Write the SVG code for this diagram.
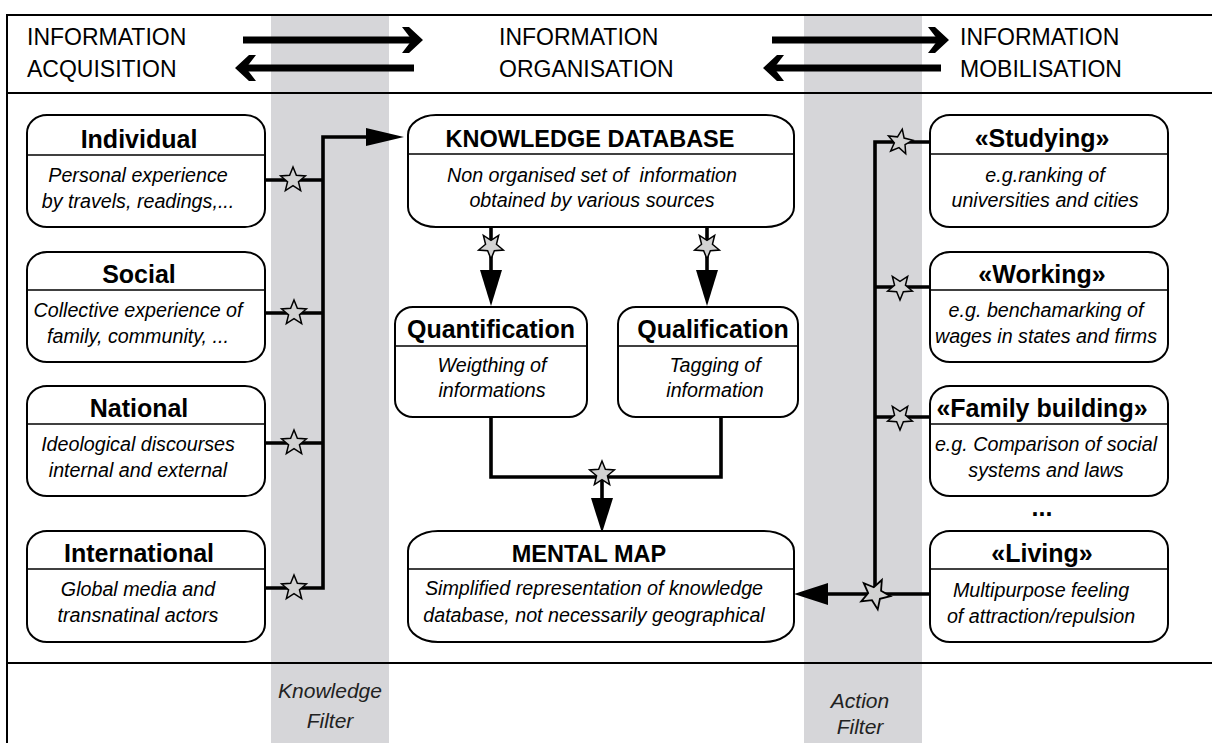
<svg xmlns="http://www.w3.org/2000/svg" xmlns:xlink="http://www.w3.org/1999/xlink" width="1212" height="743" viewBox="0 0 1212 743">
<defs>
<style>
text{font-family:"Liberation Sans",Arial,sans-serif;fill:#000}
.hdr{font-size:23px}
.ttl{font-size:25px;font-weight:bold;text-anchor:middle}
.cap{font-size:23.5px;font-weight:bold;text-anchor:middle}
.it{font-size:19.7px;font-style:italic;text-anchor:middle}
.flt{font-size:21px;font-style:italic;text-anchor:middle;fill:#222}
.box{fill:#fff;stroke:#000;stroke-width:2}
.div{stroke:#000;stroke-width:1.6}
.band{fill:#d6d6d9}
.frame{stroke:#000;stroke-width:2;fill:none}
.conn{fill:none;stroke:#000;stroke-width:3.6;stroke-linejoin:miter;stroke-linecap:butt}
.thick{fill:none;stroke:#000;stroke-width:7;stroke-linecap:butt}
.head{fill:#000}
.star{fill:#d2d2d2;stroke:#000;stroke-width:1.5;stroke-linejoin:miter}
</style>
<path id="star" d="M0,-13 L3.36,-4.63 L12.36,-4.02 L5.44,1.77 L7.64,10.52 L0,5.72 L-7.64,10.52 L-5.44,1.77 L-12.36,-4.02 L-3.36,-4.63 Z"/>
</defs>
<rect width="1212" height="743" fill="#fff"/>
<g id="bands">
<rect class="band" x="271" y="15" width="118" height="728"/>
<rect class="band" x="804" y="15" width="118" height="728"/>
</g>
<g id="frame">
<path class="frame" d="M1214,15 H7 V745"/>
<line class="frame" x1="7" y1="93" x2="1214" y2="93"/>
<line class="frame" x1="7" y1="663" x2="1214" y2="663"/>
</g>
<g id="header">
<text class="hdr" x="27" y="45">INFORMATION</text>
<text class="hdr" x="27" y="77">ACQUISITION</text>
<text class="hdr" x="499" y="45">INFORMATION</text>
<text class="hdr" x="499" y="77">ORGANISATION</text>
<text class="hdr" x="960" y="45">INFORMATION</text>
<text class="hdr" x="960" y="77">MOBILISATION</text>
</g>
<g id="connectors">
<path class="thick" d="M243,40 H412"/>
<polygon class="head" points="423,40 409,27 402,27 412,40 402,53 409,53"/>
<path class="thick" d="M414,68 H246"/>
<polygon class="head" points="235,68 249,55 256,55 246,68 256,81 249,81"/>
<path class="thick" d="M772,40 H938"/>
<polygon class="head" points="949,40 935,27 928,27 938,40 928,53 935,53"/>
<path class="thick" d="M941,68 H774"/>
<polygon class="head" points="763,68 777,55 784,55 774,68 784,81 777,81"/>

<path class="conn" d="M265,180 H323 M265,313 H323 M265,443 H323 M265,588 H323 V137 H370"/>
<polygon class="head" points="366,128 366,146 404,137"/>

<path class="conn" d="M491,227 V272"/>
<polygon class="head" points="480,270 502,270 491,306"/>
<path class="conn" d="M707,227 V272"/>
<polygon class="head" points="696,270 718,270 707,306"/>

<path class="conn" d="M491,417 V477 H721 V417 M602,477 V500"/>
<polygon class="head" points="591,498 613,498 602,533"/>

<path class="conn" d="M930,142 H875 V594 M930,287 H875 M930,417 H875 M930,594 H826"/>
<polygon class="head" points="828,583 828,605 794,594"/>

<use xlink:href="#star" href="#star" class="star" transform="translate(293,180)"/>
<use xlink:href="#star" href="#star" class="star" transform="translate(294,313)"/>
<use xlink:href="#star" href="#star" class="star" transform="translate(294,443)"/>
<use xlink:href="#star" href="#star" class="star" transform="translate(294,588)"/>
<use xlink:href="#star" href="#star" class="star" transform="translate(491,246) rotate(180)"/>
<use xlink:href="#star" href="#star" class="star" transform="translate(707,246) rotate(180)"/>
<use xlink:href="#star" href="#star" class="star" transform="translate(602,474)"/>
<use xlink:href="#star" href="#star" class="star" transform="translate(900,142) rotate(10)"/>
<use xlink:href="#star" href="#star" class="star" transform="translate(900,287) rotate(180)"/>
<use xlink:href="#star" href="#star" class="star" transform="translate(900,417) rotate(180)"/>
<use xlink:href="#star" href="#star" class="star" transform="translate(875,594) rotate(170) scale(1.2)"/>
</g>

<g id="individual">
<rect class="box" x="27" y="115" width="238" height="112" rx="20" ry="18"/>
<line class="div" x1="27" y1="155" x2="265" y2="155"/>
<text class="ttl" x="139" y="148">Individual</text>
<text class="it" x="138" y="182">Personal experience</text>
<text class="it" x="138" y="208">by travels, readings,...</text>
</g>
<g id="social">
<rect class="box" x="27" y="252" width="238" height="110" rx="20" ry="18"/>
<line class="div" x1="27" y1="290" x2="265" y2="290"/>
<text class="ttl" x="139" y="283">Social</text>
<text class="it" x="138" y="317">Collective experience of</text>
<text class="it" x="138" y="343">family, community, ...</text>
</g>
<g id="national">
<rect class="box" x="27" y="386" width="238" height="110" rx="20" ry="18"/>
<line class="div" x1="27" y1="424" x2="265" y2="424"/>
<text class="ttl" x="139" y="417">National</text>
<text class="it" x="138" y="451">Ideological discourses</text>
<text class="it" x="138" y="477">internal and external</text>
</g>
<g id="international">
<rect class="box" x="27" y="531" width="238" height="111" rx="20" ry="18"/>
<line class="div" x1="27" y1="569" x2="265" y2="569"/>
<text class="ttl" x="139" y="562">International</text>
<text class="it" x="138" y="596">Global media and</text>
<text class="it" x="138" y="622">transnatinal actors</text>
</g>

<g id="knowledge-database">
<rect class="box" x="408" y="115" width="386" height="112" rx="28" ry="20"/>
<line class="div" x1="408" y1="154" x2="794" y2="154"/>
<text class="cap" x="590" y="147">KNOWLEDGE DATABASE</text>
<text class="it" x="592" y="182" xml:space="preserve">Non organised set of  information</text>
<text class="it" x="592" y="207">obtained by various sources</text>
</g>
<g id="quantification">
<rect class="box" x="395" y="307" width="192" height="110" rx="18" ry="17"/>
<line class="div" x1="395" y1="346" x2="587" y2="346"/>
<text class="ttl" x="491" y="338">Quantification</text>
<text class="it" x="492" y="372">Weigthing of</text>
<text class="it" x="492" y="397">informations</text>
</g>
<g id="qualification">
<rect class="box" x="618" y="307" width="180" height="110" rx="18" ry="17"/>
<line class="div" x1="618" y1="346" x2="798" y2="346"/>
<text class="ttl" x="713" y="338">Qualification</text>
<text class="it" x="715" y="372">Tagging of</text>
<text class="it" x="715" y="397">information</text>
</g>
<g id="mental-map">
<rect class="box" x="408" y="531" width="386" height="111" rx="30" ry="20"/>
<line class="div" x1="408" y1="569" x2="794" y2="569"/>
<text class="cap" x="589" y="562">MENTAL MAP</text>
<text class="it" x="594" y="595">Simplified representation of knowledge</text>
<text class="it" x="594" y="622">database, not necessarily geographical</text>
</g>

<g id="studying">
<rect class="box" x="930" y="115" width="238" height="112" rx="20" ry="18"/>
<line class="div" x1="930" y1="154" x2="1168" y2="154"/>
<text class="ttl" x="1042" y="147">«Studying»</text>
<text class="it" x="1045" y="182">e.g.ranking of</text>
<text class="it" x="1045" y="207">universities and cities</text>
</g>
<g id="working">
<rect class="box" x="930" y="252" width="238" height="110" rx="20" ry="18"/>
<line class="div" x1="930" y1="290" x2="1168" y2="290"/>
<text class="ttl" x="1042" y="283">«Working»</text>
<text class="it" x="1046" y="317">e.g. benchamarking of</text>
<text class="it" x="1046" y="343">wages in states and firms</text>
</g>
<g id="family-building">
<rect class="box" x="930" y="386" width="238" height="110" rx="20" ry="18"/>
<line class="div" x1="930" y1="424" x2="1168" y2="424"/>
<text class="ttl" x="1042" y="417">«Family building»</text>
<text class="it" x="1046" y="451">e.g. Comparison of social</text>
<text class="it" x="1046" y="477">systems and laws</text>
</g>
<text class="ttl" x="1042" y="516">...</text>
<g id="living">
<rect class="box" x="930" y="531" width="238" height="111" rx="20" ry="18"/>
<line class="div" x1="930" y1="569" x2="1168" y2="569"/>
<text class="ttl" x="1042" y="562">«Living»</text>
<text class="it" x="1041" y="597">Multipurpose feeling</text>
<text class="it" x="1041" y="623">of attraction/repulsion</text>
</g>

<g id="filter-labels">
<text class="flt" x="330" y="698">Knowledge</text>
<text class="flt" x="330" y="728">Filter</text>
<text class="flt" x="860" y="708">Action</text>
<text class="flt" x="860" y="734">Filter</text>
</g>
</svg>
